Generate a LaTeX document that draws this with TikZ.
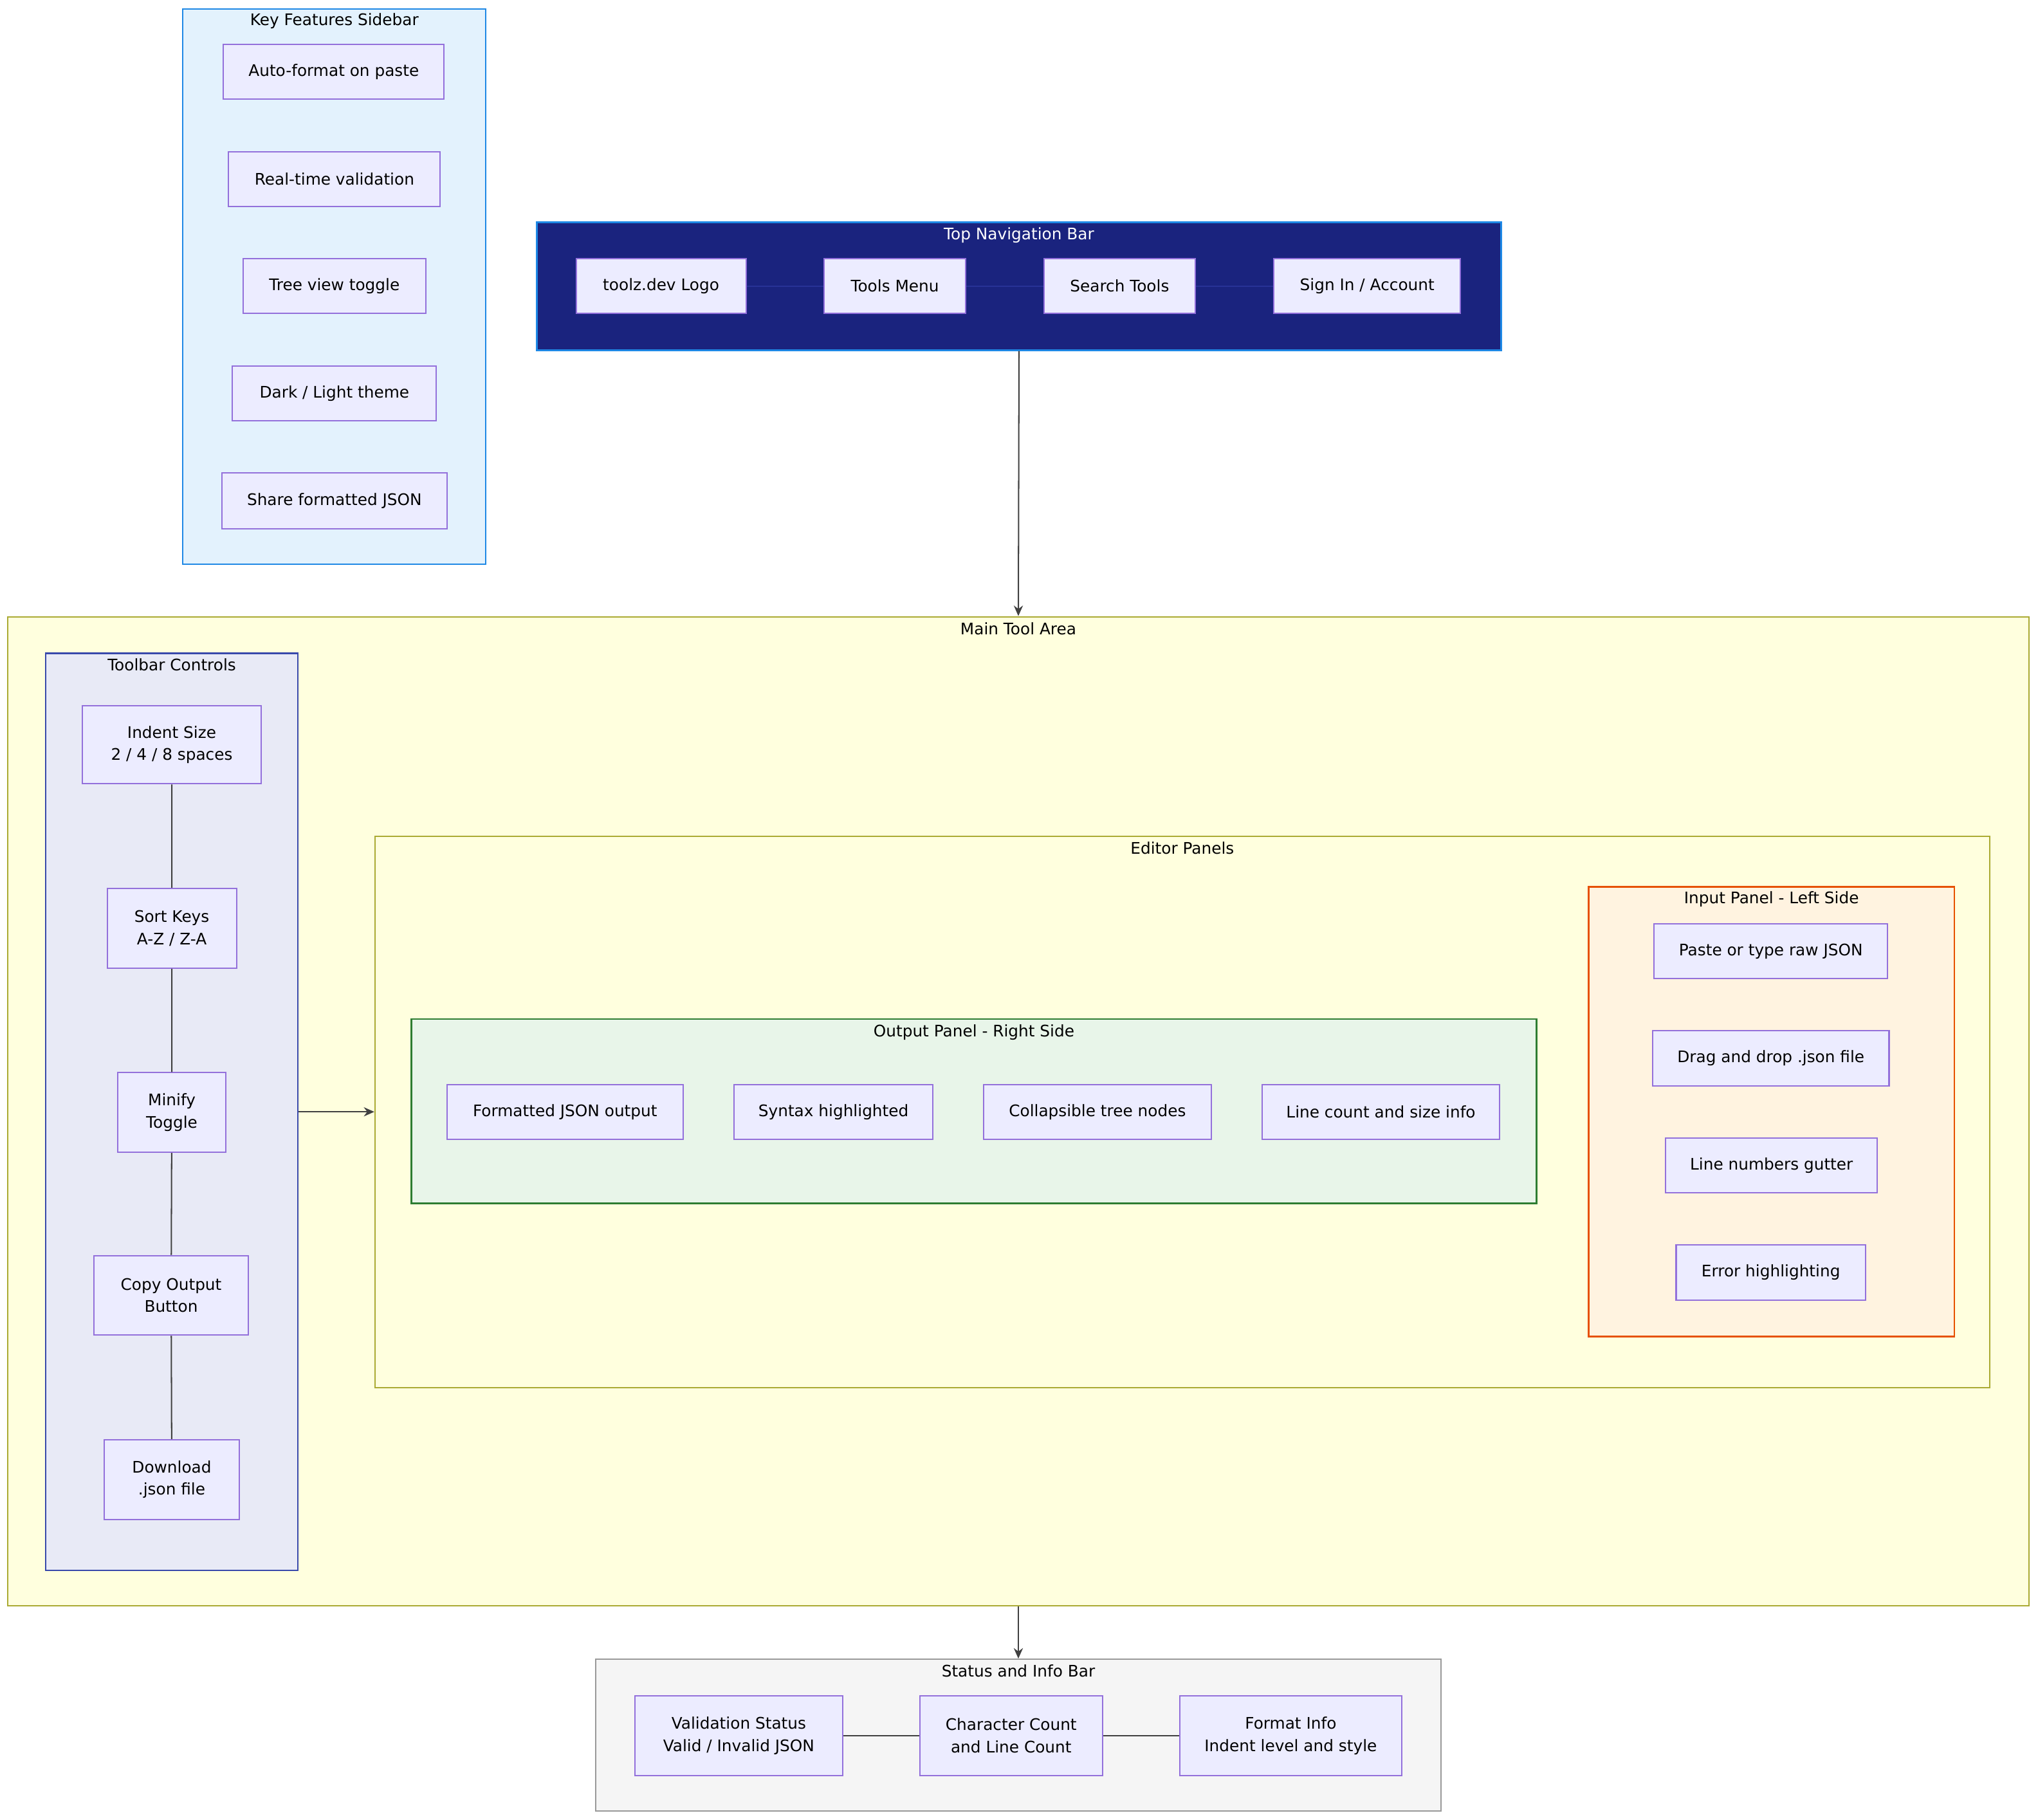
\documentclass[tikz,border=0pt]{standalone}
\usepackage{fontspec}
\setmainfont{DejaVu Sans}
\usetikzlibrary{arrows.meta}
\definecolor{nfill}{HTML}{ECECFF}\definecolor{nborder}{HTML}{9370DB}
\definecolor{yel}{HTML}{FFFFDE}\definecolor{yelb}{HTML}{AAAA33}
\definecolor{sidef}{HTML}{E3F2FD}\definecolor{sideb}{HTML}{1E88E5}
\tikzset{
 nd/.style={draw=nborder,fill=nfill,line width=0.5pt,font=\fontsize{6.1}{8.5}\selectfont,align=center,inner sep=0pt},
 cont/.style={draw,line width=0.7pt,inner sep=0pt},
 ttl/.style={font=\fontsize{6.1}{8}\selectfont,inner sep=0pt},
 ln/.style={draw=black!75,line width=0.5pt},
 arr/.style={ln,-{Stealth[length=4pt,width=3.5pt]}}
}
\newcommand{\N}[6]{\node[nd,minimum width=#4*0.5pt,minimum height=#5*0.5pt] (#1) at (#2,#3) {#6};}
\begin{document}
\begin{tikzpicture}[x=0.5pt,y=-0.5pt]
\useasboundingbox[fill=white] (0,0) rectangle (1560,1393);
% containers
\node[cont,draw=sideb,fill=sidef,line width=0.5pt,minimum width=116pt,minimum height=212.5pt] (side) at (256,219.5) {};
\node[ttl] at (256,16) {Key Features Sidebar};
\node[cont,draw=sideb,fill={rgb,255:red,26;green,35;blue,126},minimum width=369pt,minimum height=49pt] (nav) at (780,219) {};
\node[ttl,text=white] at (780,180) {Top Navigation Bar};
\node[cont,draw=yelb,fill=yel,line width=0.5pt,minimum width=773.5pt,minimum height=378.5pt] (main) at (779.5,850.5) {};
\node[ttl] at (779.5,481) {Main Tool Area};
\node[cont,draw={rgb,255:red,57;green,73;blue,171},fill={rgb,255:red,232;green,234;blue,246},minimum width=96.5pt,minimum height=351pt] (tool) at (131.5,851) {};
\node[ttl] at (131.5,509) {Toolbar Controls};
\node[cont,draw=yelb,fill=yel,line width=0.5pt,minimum width=618pt,minimum height=211pt] (edit) at (905,851) {};
\node[ttl] at (905,649) {Editor Panels};
\node[cont,draw={rgb,255:red,46;green,125;blue,50},fill={rgb,255:red,232;green,245;blue,233},minimum width=430.5pt,minimum height=70.5pt] (out) at (745.5,850.5) {};
\node[ttl] at (745.5,790) {Output Panel - Right Side};
\node[cont,draw={rgb,255:red,230;green,81;blue,0},fill={rgb,255:red,255;green,243;blue,224},minimum width=140pt,minimum height=172pt] (inp) at (1356,851) {};
\node[ttl] at (1356,688) {Input Panel - Left Side};
\node[cont,draw=black!40,fill=black!4,line width=0.5pt,minimum width=323.5pt,minimum height=58pt] (stat) at (779.5,1328) {};
\node[ttl] at (779.5,1279) {Status and Info Bar};
% sidebar nodes
\N{s1}{255.5}{55}{169}{42}{Auto-format on paste}
\N{s2}{256}{137}{162}{42}{Real-time validation}
\N{s3}{256}{219}{140}{42}{Tree view toggle}
\N{s4}{256}{301}{156}{42}{Dark / Light theme}
\N{s5}{256}{383.5}{172}{43}{Share formatted JSON}
% nav nodes
\N{n1}{506}{219}{130}{42}{toolz.dev Logo}
\N{n2}{685}{219}{108}{42}{Tools Menu}
\N{n3}{857}{219}{116}{42}{Search Tools}
\N{n4}{1046.5}{219}{143}{42}{Sign In / Account}
\draw[ln,draw={rgb,255:red,40;green,50;blue,150}] (n1)--(n2) (n2)--(n3) (n3)--(n4);
% toolbar
\N{t1}{131.5}{570}{137}{60}{Indent Size\\2 / 4 / 8 spaces}
\N{t2}{131.5}{710.5}{99}{61}{Sort Keys\\A-Z / Z-A}
\N{t3}{131.5}{851.5}{83}{61}{Minify\\Toggle}
\N{t4}{131}{991.5}{118}{61}{Copy Output\\Button}
\N{t5}{131.5}{1132.5}{103}{61}{Download\\.json file}
\draw[ln] (t1)--(t2) (t2)--(t3) (t3)--(t4) (t4)--(t5);
% output
\N{o1}{432.5}{851}{181}{42}{Formatted JSON output}
\N{o2}{638}{851}{152}{42}{Syntax highlighted}
\N{o3}{840}{851}{174}{42}{Collapsible tree nodes}
\N{o4}{1057}{851}{182}{42}{Line count and size info}
% input
\N{i1}{1355.5}{728}{179}{42}{Paste or type raw JSON}
\N{i2}{1355.5}{810}{181}{42}{Drag and drop .json file}
\N{i3}{1356}{892}{162}{42}{Line numbers gutter}
\N{i4}{1355.5}{974}{145}{42}{Error highlighting}
% status
\N{b1}{565.5}{1328.5}{159}{61}{Validation Status\\Valid / Invalid JSON}
\N{b2}{774}{1328.5}{140}{61}{Character Count\\and Line Count}
\N{b3}{988}{1328.5}{170}{61}{Format Info\\Indent level and style}
\draw[ln] (b1)--(b2) (b2)--(b3);
% arrows
\draw[arr] (nav.south)--(main.north);
\draw[arr] (tool.east)--(edit.west);
\draw[arr] (main.south)--(stat.north);
\end{tikzpicture}
\end{document}
